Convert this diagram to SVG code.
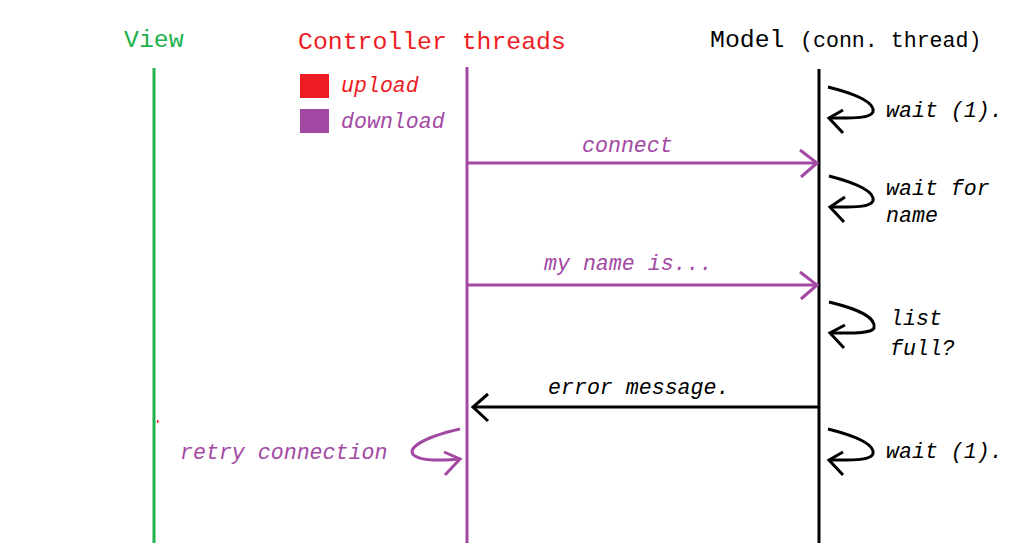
<svg xmlns="http://www.w3.org/2000/svg" width="1024" height="550" viewBox="0 0 1024 550">
<style>
text{font-family:"Liberation Mono","DejaVu Sans Mono",monospace}
.t{font-size:24.8px}
.l{font-size:21.6px;font-style:italic}
.k{stroke:#000;stroke-width:3;fill:none}
.p{stroke:#A349A4;stroke-width:3;fill:none}
.g{stroke:#22B14C;stroke-width:3;fill:none}
.lp{fill:#A349A4}
.lk{fill:#000}
</style>
<rect width="1024" height="550" fill="#fff"/>
<g id="view">
<text class="t" x="124" y="47" fill="#22B14C">View</text>
<line class="g" x1="154" y1="68" x2="154" y2="543"/>
<rect x="157" y="420" width="1.5" height="3" fill="#ED1C24"/>
</g>
<g id="controller">
<text class="t" x="298" y="49" fill="#ED1C24">Controller threads</text>
<line class="p" x1="467" y1="67" x2="467" y2="543"/>
</g>
<g id="legend">
<rect x="300" y="74" width="29" height="24" fill="#ED1C24"/>
<text class="l" x="341" y="92" fill="#ED1C24">upload</text>
<rect x="300" y="109" width="29" height="24" fill="#A349A4"/>
<text class="l lp" x="341" y="128">download</text>
</g>
<g id="model">
<text x="710" y="47" class="t" fill="#000">Model</text>
<text x="800" y="47" font-size="21.6" fill="#000">(conn. thread)</text>
<line class="k" x1="819" y1="69" x2="819" y2="543"/>
</g>
<g id="connectors">
<line class="p" x1="467" y1="163" x2="817" y2="163"/>
<polyline class="p" points="800,150 817,163 801,177"/>
<text class="l lp" x="582" y="152">connect</text>
<line class="p" x1="467" y1="285" x2="817" y2="285"/>
<polyline class="p" points="800,272 817,285 801,299"/>
<text class="l lp" x="544" y="270">my name is...</text>
<line class="k" x1="819" y1="407" x2="473" y2="407"/>
<polyline class="k" points="488,394 473,407 488,421"/>
<text class="l lk" x="548" y="394">error message.</text>
<path class="p" d="M460,429 C420,438 405,450 415,456 C425,462 445,460 460,459"/>
<polyline class="p" points="444,452 460,459 445,475"/>
<text class="l lp" x="180" y="459">retry connection</text>
<path class="k" d="M828,87 C860,95 875,103 873,112 C870,119 850,118 829,118"/>
<polyline class="k" points="843,110 829,118 843,133"/>
<text class="l lk" x="886" y="117">wait (1).</text>
<path class="k" d="M829,176 C860,184 875,192 873,201 C870,208 850,207 830,207"/>
<polyline class="k" points="845,197 830,207 844,222"/>
<text class="l lk" x="886" y="195">wait for</text>
<text class="l lk" x="886" y="222">name</text>
<path class="k" d="M829,302 C862,310 876,318 874,328 C871,334 851,333 830,333"/>
<polyline class="k" points="845,325 830,333 844,348"/>
<text class="l lk" x="890" y="325">list</text>
<text class="l lk" x="890" y="355">full?</text>
<path class="k" d="M828,429 C860,437 875,445 873,454 C870,461 850,460 829,460"/>
<polyline class="k" points="843,452 829,460 843,475"/>
<text class="l lk" x="886" y="458">wait (1).</text>
</g>
</svg>
